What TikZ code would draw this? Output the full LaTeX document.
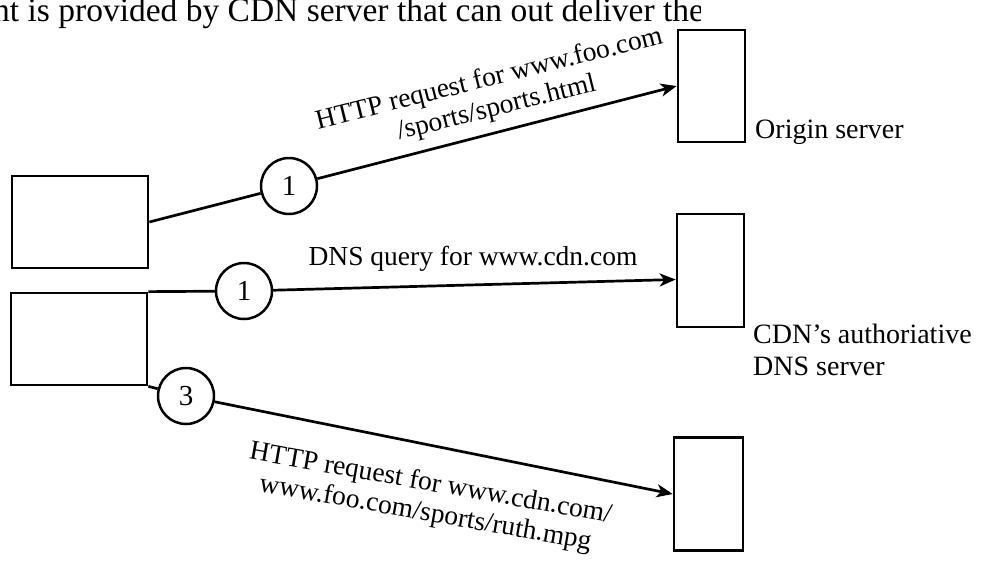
\documentclass[tikz,border=0pt]{standalone}
\usepackage{fontspec}
\setmainfont{Liberation Serif}
\usetikzlibrary{arrows.meta,calc}
\begin{document}
\begin{tikzpicture}[x=1pt,y=-1pt,
  box/.style={draw, line width=2.7pt, inner sep=0pt},
  num/.style={draw, circle, line width=2.5pt, minimum size=56pt, inner sep=0pt, font=\fontsize{29}{30}\selectfont},
  conn/.style={line width=2.7pt},
  arr/.style={conn, -{Stealth[length=16pt,width=13pt,inset=4.5pt]}},
  lbl/.style={font=\fontsize{27.5}{30}\selectfont, inner sep=0pt, align=center},
  side/.style={font=\fontsize{28}{32}\selectfont, inner sep=0pt, anchor=base west}
]
\fill[white] (0,0) rectangle (984,560);
\useasboundingbox (0,0) rectangle (984,560);

% cut-off running text at the top
\begin{scope}
\clip (0,0) rectangle (700,40);
\node[font=\fontsize{33.5}{35}\selectfont, inner sep=0pt, anchor=base west] (toptext) at (-7,21) {nt is provided by CDN server that can out deliver the content};
\end{scope}

% boxes
\node[box, minimum width=136pt, minimum height=92pt] (b1) at (80,222) {};
\node[box, minimum width=136pt, minimum height=92pt] (b2) at (79,339) {};
\node[box, minimum width=67pt, minimum height=112pt] (origin) at (711.5,86) {};
\node[box, minimum width=67pt, minimum height=113pt] (dns) at (710.5,270.5) {};
\node[box, minimum width=69pt, minimum height=113pt] (b3) at (708.5,494) {};

% numbered circles
\node[num] (c1) at (289,186) {1};
\node[num] (c2) at (244,291) {1};
\node[num] (c3) at (186,396) {3};

% connectors
\draw[conn] (b1.east) -- (c1);
\draw[arr] (c1) -- (origin.west);
\draw[conn] (b2.north east) -- (c2);
\draw[arr] (c2) -- ($(dns.west)+(0,9)$);
\draw[conn] (b2.south east) -- (c3);
\draw[arr] (c3) -- (b3.west);

% labels
\node[lbl, rotate=14] (l1) at (493,94) {HTTP request for www.foo.com\\/sports/sports.html};
\node[lbl, anchor=base] (l2) at (473,265) {DNS query for www.cdn.com};
\node[lbl, rotate=-10] (l3) at (428,499) {HTTP request for www.cdn.com/\\www.foo.com/sports/ruth.mpg};

\node[side] (lo) at (755,138) {Origin server};
\node[side] (ld1) at (753,343) {CDN’s authoriative};
\node[side] (ld2) at (753,375) {DNS server};
\end{tikzpicture}
\end{document}
